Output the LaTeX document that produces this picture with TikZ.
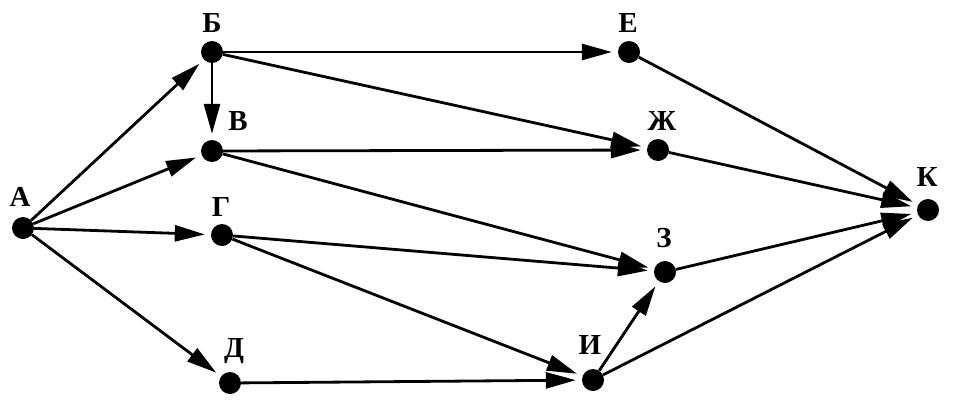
\documentclass[tikz,border=0pt]{standalone}
\usepackage{fontspec}
\setmainfont{Liberation Serif}
\usetikzlibrary{arrows.meta}
\tikzset{
  vtx/.style={circle,fill=black,inner sep=0pt,minimum size=22pt},
  lbl/.style={font=\fontsize{29}{29}\selectfont\bfseries,inner sep=0pt},
  edge/.style={line width=2.8pt,-{Triangle[length=30pt,width=16pt]},shorten >=6pt}
}
\begin{document}
\begin{tikzpicture}[x=1pt,y=-1pt]
\useasboundingbox (0,0) rectangle (955,407);
\node[vtx] (A) at (23,228) {};
\node[vtx] (B) at (212,52) {};
\node[vtx] (V) at (212,151) {};
\node[vtx] (G) at (222,235) {};
\node[vtx] (D) at (230,383) {};
\node[vtx] (E) at (629,52) {};
\node[vtx] (Zh) at (658,150) {};
\node[vtx] (Z) at (665,272) {};
\node[vtx] (I) at (593,380) {};
\node[vtx] (K) at (928,210) {};
\node[lbl] (lA) at (20,197) {А};
\node[lbl] (lB) at (212,23) {Б};
\node[lbl] (lV) at (238,121) {В};
\node[lbl] (lG) at (221,207) {Г};
\node[lbl] (lD) at (234,351) {Д};
\node[lbl] (lE) at (628,23) {Е};
\node[lbl] (lZh) at (662,121) {Ж};
\node[lbl] (lZ) at (664,238) {З};
\node[lbl] (lI) at (590,345) {И};
\node[lbl] (lK) at (927,177) {К};
\draw[edge] (A) -- (B);
\draw[edge] (A) -- (V);
\draw[edge] (A) -- (G);
\draw[edge] (A) -- (D);
\draw[edge] (B) -- (V);
\draw[edge] (B) -- (E);
\draw[edge] (B) -- (Zh);
\draw[edge] (V) -- (Zh);
\draw[edge] (V) -- (Z);
\draw[edge] (G) -- (Z);
\draw[edge] (G) -- (I);
\draw[edge] (D) -- (I);
\draw[edge] (E) -- (K);
\draw[edge] (Zh) -- (K);
\draw[edge] (Z) -- (K);
\draw[edge] (I) -- (Z);
\draw[edge] (I) -- (K);
\end{tikzpicture}
\end{document}
